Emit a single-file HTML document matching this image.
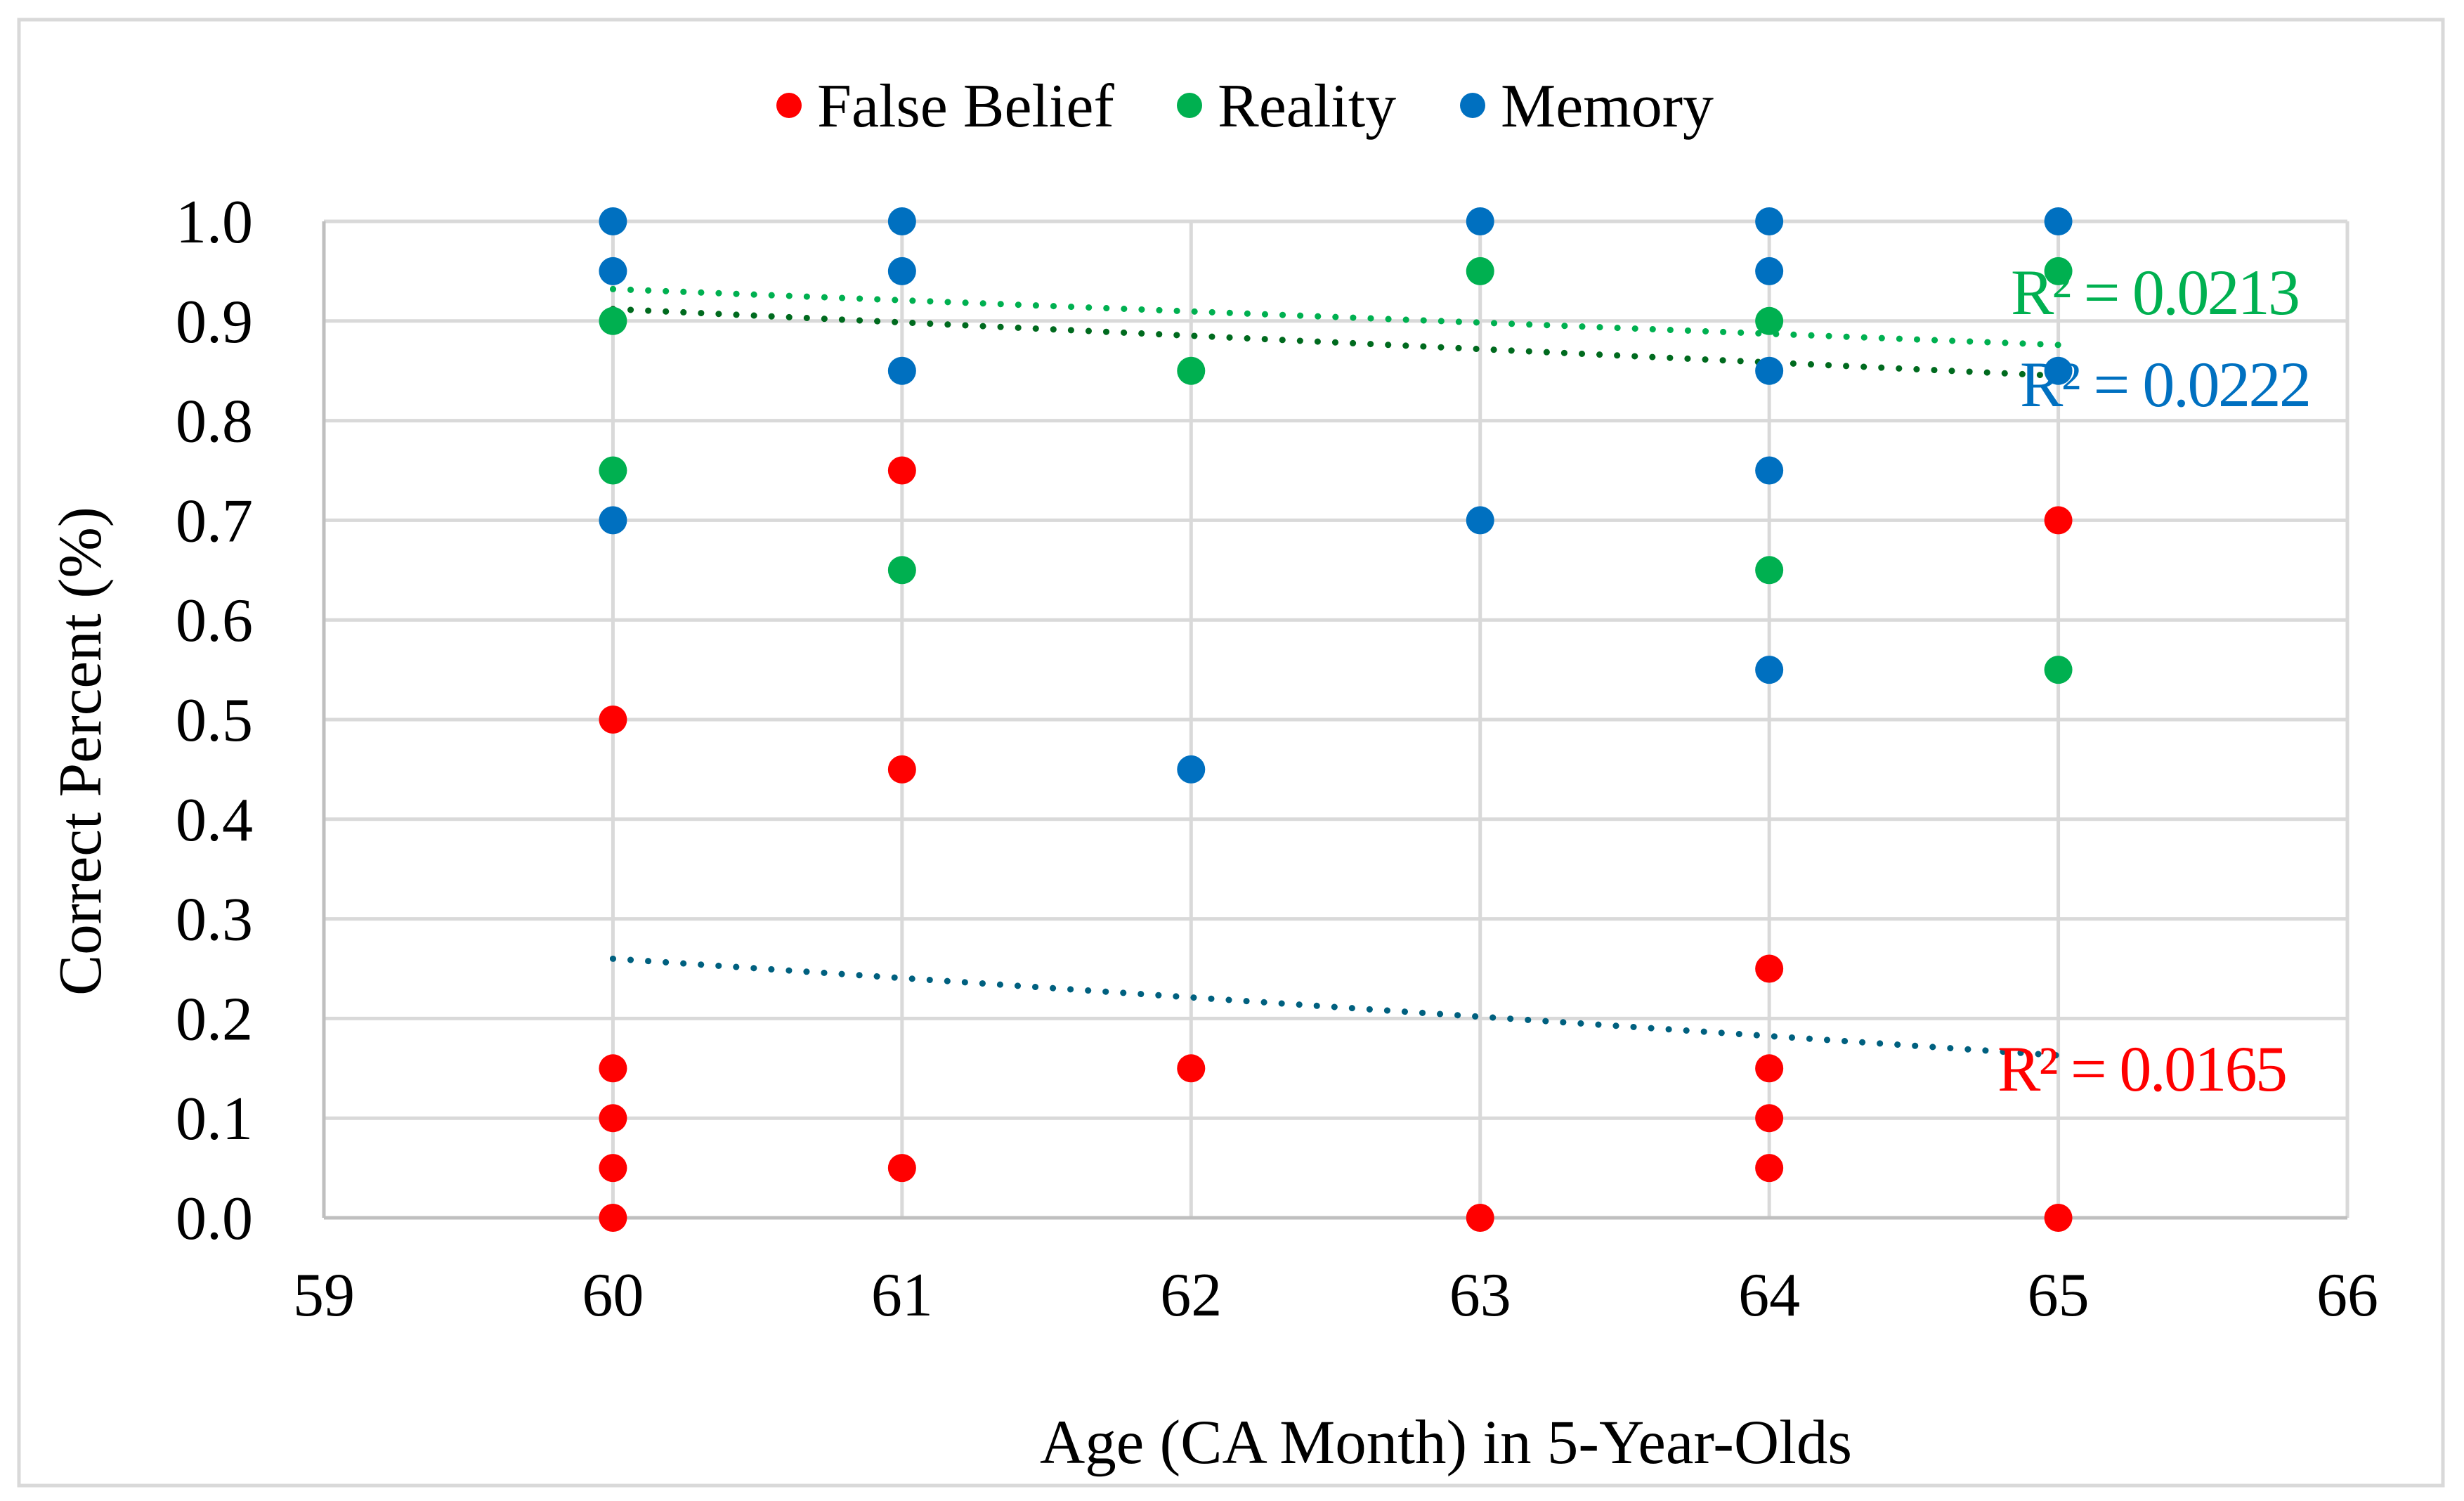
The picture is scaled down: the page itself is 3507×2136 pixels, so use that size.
<!DOCTYPE html>
<html><head><meta charset="utf-8">
<style>
html,body{margin:0;padding:0;background:#fff;}
svg{display:block;font-family:"Liberation Serif",serif;}
</style></head>
<body>
<svg id="chart" width="3507" height="2136" viewBox="0 0 3507 2136">
<rect x="27" y="28" width="3450" height="2086" fill="#fff" stroke="#d9d9d9" stroke-width="5"/>
<g id="grid"></g>
<g id="axes"></g>
<g id="trends"></g>
<g id="points"></g>
<g id="labels"></g>
<g>
  <g><circle cx="1123" cy="150" r="18" fill="#ff0000"/><text x="1163" y="180" font-size="88">False Belief</text></g>
  <g><circle cx="1693" cy="150" r="18" fill="#00b050"/><text x="1733" y="180" font-size="88">Reality</text></g>
  <g><circle cx="2096" cy="150" r="18" fill="#0070c0"/><text x="2136" y="180" font-size="88">Memory</text></g>
</g>
<text x="123" y="1069" font-size="87" text-anchor="middle" transform="rotate(-90 123 1069)" dominant-baseline="middle">Correct Percent (%)</text>
<text x="2058" y="2082" font-size="89" text-anchor="middle">Age (CA Month) in 5-Year-Olds</text>
<text x="2862" y="447" font-size="92" fill="#00b050" textLength="412">R² = 0.0213</text>
<text x="2875" y="578" font-size="92" fill="#0070c0" textLength="415">R² = 0.0222</text>
<text x="2843" y="1552" font-size="92" fill="#ff0000" textLength="413">R² = 0.0165</text>
</svg>
<script>
const xTicks = [59,60,61,62,63,64,65,66];
const yTicks = [0,0.1,0.2,0.3,0.4,0.5,0.6,0.7,0.8,0.9,1.0];
const fbX = [60,60,60,60,60,61,61,61,62,63,64,64,64,64,65,65];
const fbY = [0.5,0.15,0.1,0.05,0,0.75,0.45,0.05,0.15,0,0.25,0.15,0.1,0.05,0.7,0];
const reX = [60,60,61,62,63,64,64,65,65];
const reY = [0.9,0.75,0.65,0.85,0.95,0.9,0.65,0.95,0.55];
const meX = [60,60,60,61,61,61,62,63,63,64,64,64,64,64,65,65];
const meY = [1.0,0.95,0.7,1.0,0.95,0.85,0.45,1.0,0.7,1.0,0.95,0.85,0.75,0.55,1.0,0.85];
const trendX = [60,65];
const trendRealityY = [0.932,0.876];
const trendMemoryY = [0.912,0.845];
const trendFalseBeliefY = [0.26,0.163];

const NS="http://www.w3.org/2000/svg";
const X0=461,X1=3341,Y0=1733,Y1=315;
function sx(v){return X0+(v-59)/(66-59)*(X1-X0);}
function sy(v){return Y0-(v-0)/(1-0)*(Y0-Y1);}
function mk(tag,attrs,parent){const e=document.createElementNS(NS,tag);for(const k in attrs)e.setAttribute(k,attrs[k]);parent.appendChild(e);return e;}
const grid=document.getElementById('grid'),axes=document.getElementById('axes'),trends=document.getElementById('trends'),points=document.getElementById('points'),labels=document.getElementById('labels');
yTicks.forEach(t=>{
  if(t>0){const l=mk('line',{x1:X0,x2:X1,y1:sy(t),y2:sy(t),stroke:'#d9d9d9','stroke-width':5},grid);
  
  }
  const tx=mk('text',{x:360,y:sy(t)+30,'font-size':88,'text-anchor':'end'},labels);
  tx.textContent=t.toFixed(1);
  
  
});
xTicks.forEach(t=>{
  if(t>59){const l=mk('line',{x1:sx(t),x2:sx(t),y1:Y1,y2:Y0,stroke:'#d9d9d9','stroke-width':5},grid);
  
  }
  const tx=mk('text',{x:sx(t),y:1872,'font-size':88,'text-anchor':'middle'},labels);
  tx.textContent=String(t);
  
  
});
const ya=mk('line',{x1:X0,x2:X0,y1:Y1,y2:Y0,stroke:'#bfbfbf','stroke-width':5},axes);


const xa=mk('line',{x1:X0,x2:X1,y1:Y0,y2:Y0,stroke:'#bfbfbf','stroke-width':5},axes);


function trend(ys,color,name){
  const l=mk('line',{x1:sx(trendX[0]),x2:sx(trendX[1]),y1:sy(ys[0]),y2:sy(ys[1]),stroke:color,'stroke-width':9,'stroke-linecap':'round','stroke-dasharray':'0.1 25'},trends);
  
  
}
trend(trendRealityY,'#00b050','trendline-reality');
trend(trendMemoryY,'#006a1e','trendline-memory');
trend(trendFalseBeliefY,'#00607f','trendline-false-belief');
function series(xs,ys,color,name){
  xs.forEach((x,i)=>{const c=mk('circle',{cx:sx(x),cy:sy(ys[i]),r:20,fill:color},points);
  
  });
}
series(fbX,fbY,'#ff0000','point-false-belief');
series(reX,reY,'#00b050','point-reality');
series(meX,meY,'#0070c0','point-memory');
</script>
</body></html>
